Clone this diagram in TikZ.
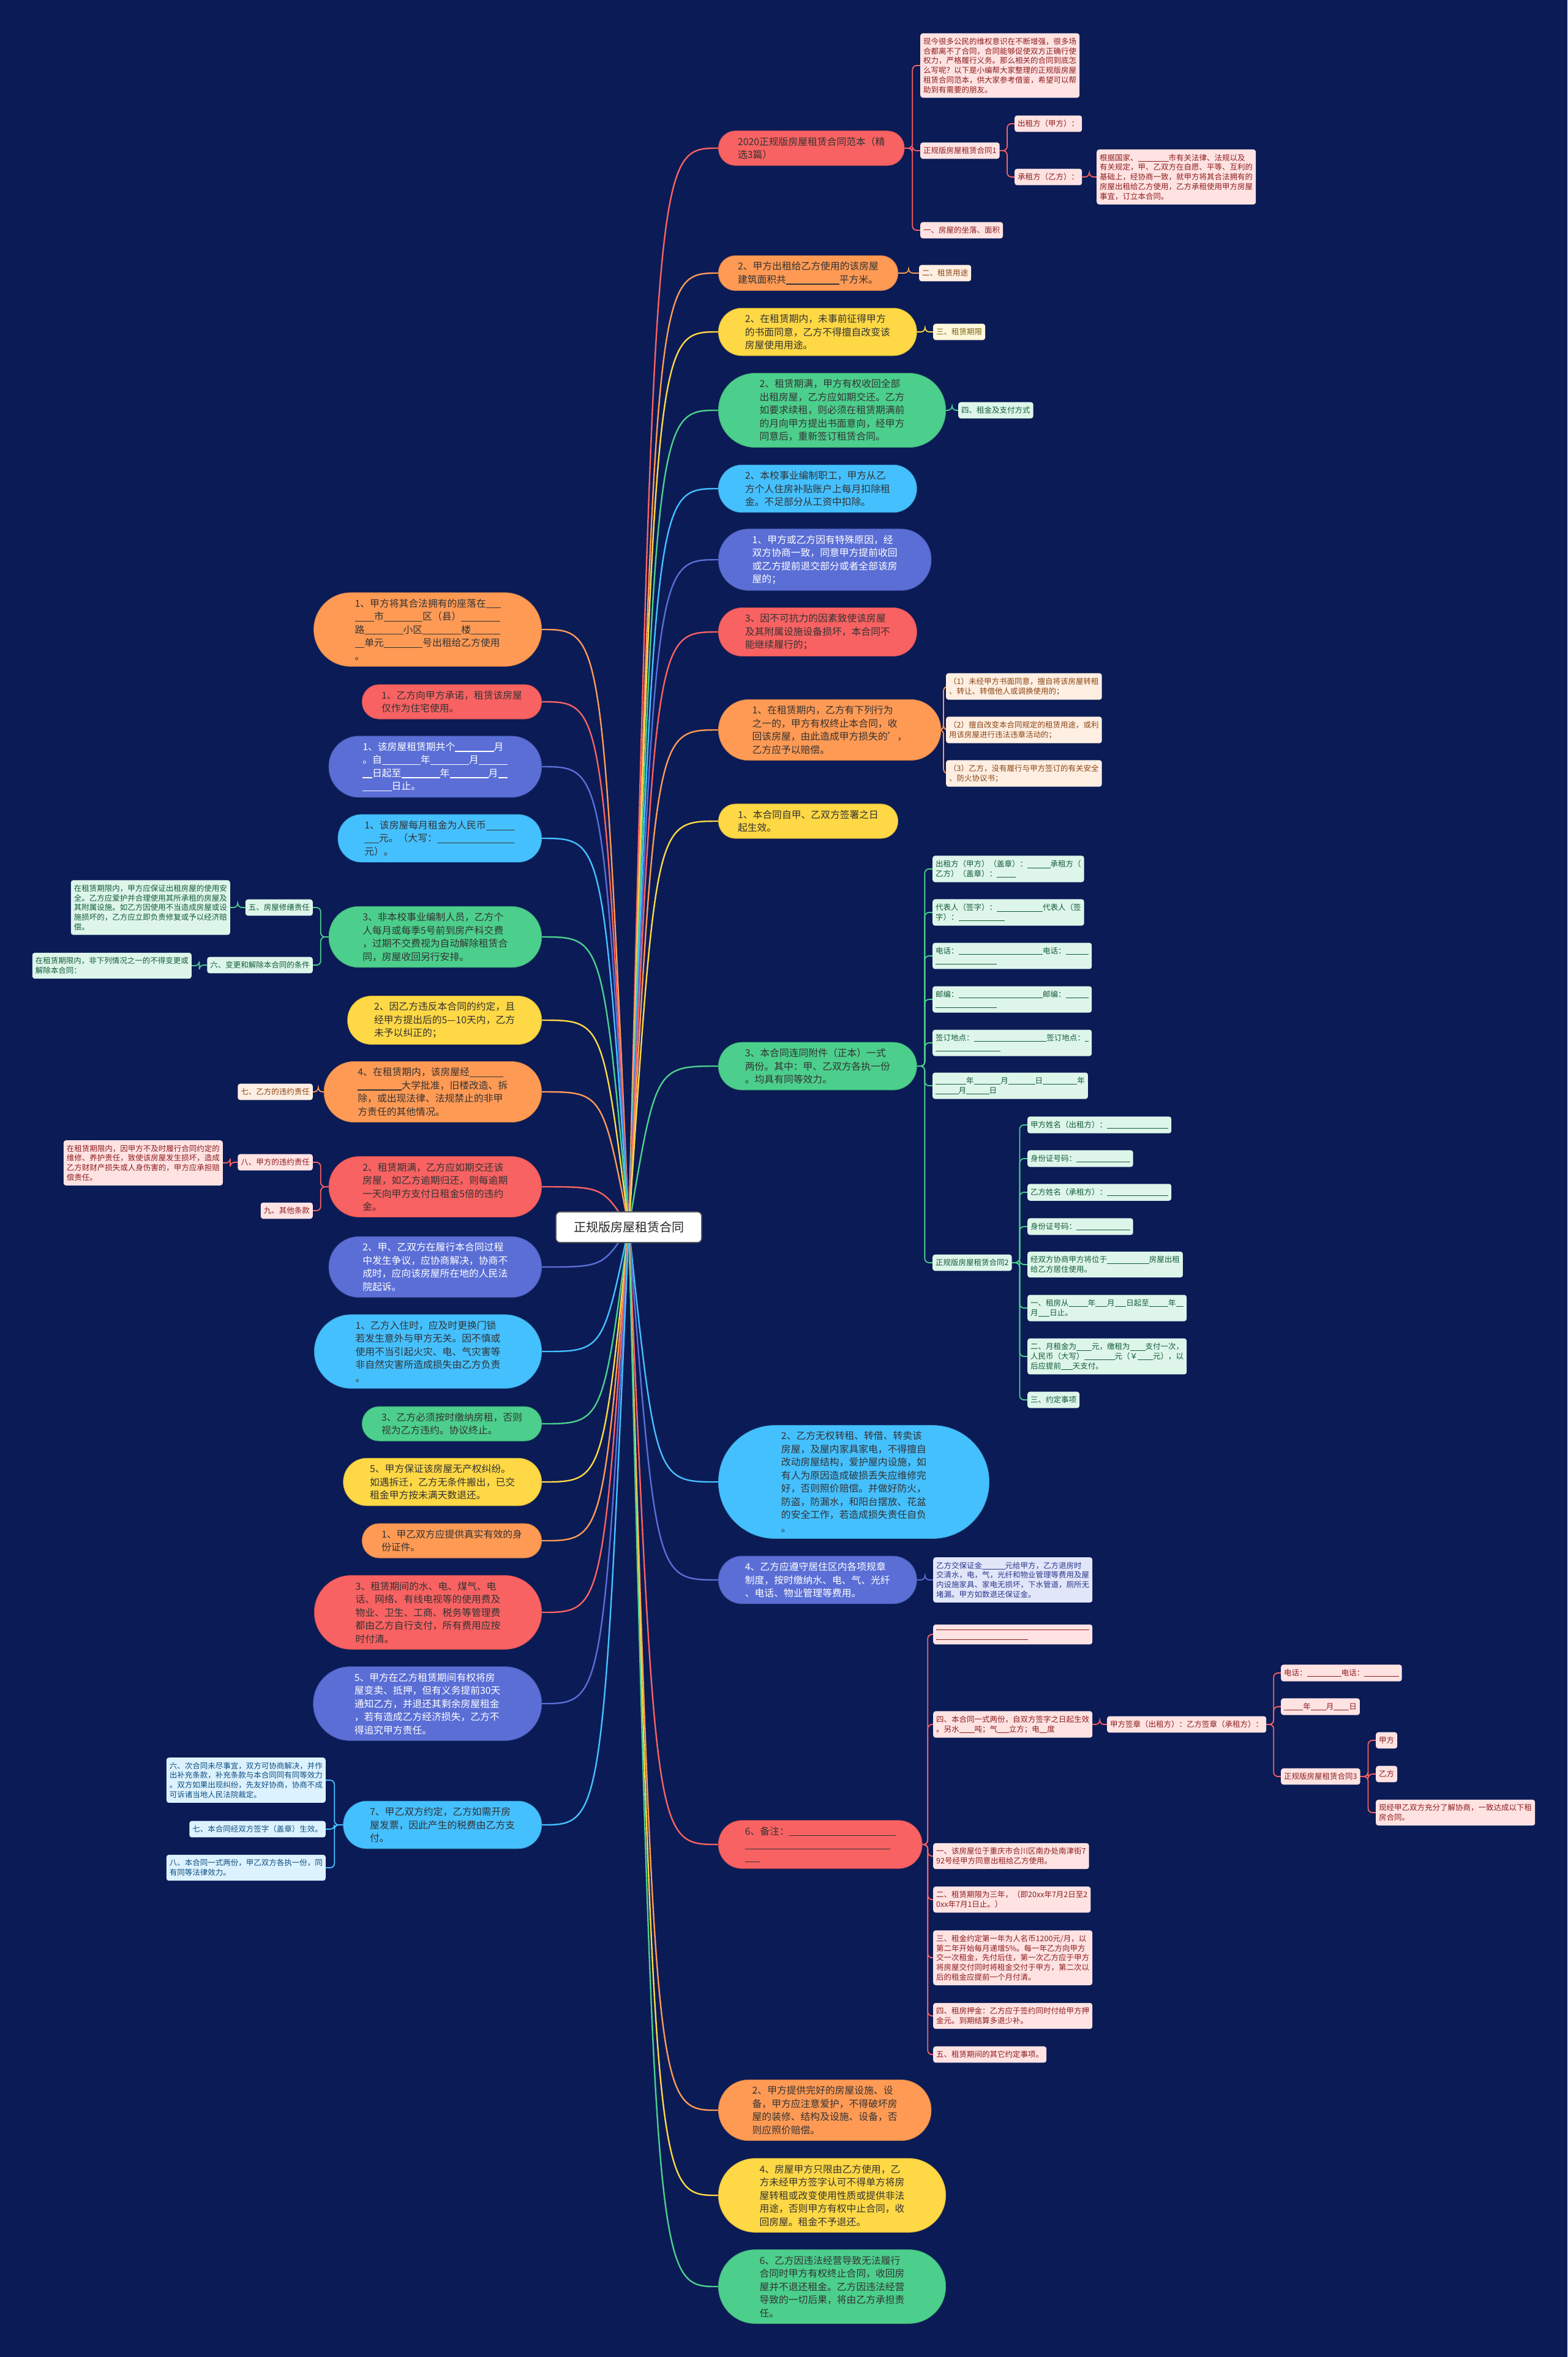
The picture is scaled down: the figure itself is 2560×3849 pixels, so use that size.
\documentclass[tikz,border=0pt]{standalone}
\usepackage{fontspec}
\setmainfont{Noto Sans CJK SC}
\usetikzlibrary{calc, positioning}
\definecolor{bgNavy}{HTML}{0A1B56}
\definecolor{cRed}{HTML}{F96262}
\definecolor{cOrange}{HTML}{FF9A55}
\definecolor{cYellow}{HTML}{FFD845}
\definecolor{cGreen}{HTML}{4CCF8C}
\definecolor{cSky}{HTML}{45C0FF}
\definecolor{cIndigo}{HTML}{5A6ED6}
\definecolor{pRed}{HTML}{FFE3E3}
\definecolor{pOrange}{HTML}{FFEFE2}
\definecolor{pYellow}{HTML}{FFF7DB}
\definecolor{pGreen}{HTML}{DEF6EA}
\definecolor{pSky}{HTML}{DDF2FF}
\definecolor{pIndigo}{HTML}{E2E6F9}
\definecolor{dRed}{HTML}{8E1D1D}
\definecolor{dOrange}{HTML}{8A4514}
\definecolor{dYellow}{HTML}{7A6312}
\definecolor{dGreen}{HTML}{135B3B}
\definecolor{dSky}{HTML}{0F4F80}
\definecolor{dIndigo}{HTML}{2B398C}
\pgfdeclarelayer{bg}
\pgfdeclarelayer{edges}
\pgfsetlayers{bg,edges,main}
\newcommand{\bl}[1]{\rule[-0.14em]{\dimexpr #1em/2\relax}{0.07em}}

\begin{document}
\begin{tikzpicture}[
    x=1pt, y=-1pt,
    root/.style={
        rectangle, rounded corners=7pt,
        fill=white, draw=black!65, line width=1.6pt,
        font=\fontsize{20}{24}\selectfont, text=black!85,
        minimum width=238pt, minimum height=50pt
    },
    topic/.style={
        rectangle, align=left, inner ysep=10pt,
        font=\fontsize{15.8}{21.5}\selectfont, text=black!80,
        fill=#1, draw=#1!80!black, line width=0.8pt
    },
    rows/.style={
        inner xsep={0.55*(21.5*#1+14.5)},
        rounded corners={0.5*(21.5*#1+14.5)-1}
    },
    leaf/.style={
        rectangle, rounded corners=4pt, align=left,
        inner xsep=5pt, inner ysep=7.5pt,
        font=\fontsize{12.5}{15.7}\selectfont,
        fill=p#1, text=d#1
    },
    mainline/.style={
        line width=2.4pt,
        to path={let \p1=(\tikztostart), \p2=(\tikztotarget) in
            .. controls ({\x1+0.3*(\x2-\x1)},\y2) .. (\tikztotarget)}
    },
    subline/.style={
        line width=1.8pt, rounded corners=7pt,
        to path={-- ($(\tikztostart)!0.5!(\tikztostart-|\tikztotarget)$) |- (\tikztotarget)}
    }
]
\useasboundingbox (0,0) rectangle (2560,3849);
\begin{pgfonlayer}{bg}
\fill[bgNavy] (0,0) rectangle (2560,3849);
\end{pgfonlayer}

% root
\node[root] (root) at (1027,2004) {正规版房屋租赁合同};

% right topics
\node[topic=cRed, rows=2, anchor=west] (R1) at (1173,242) {2020正规版房屋租赁合同范本（精\\选3篇）};
\node[topic=cOrange, rows=2, anchor=west] (R2) at (1173,446) {2、甲方出租给乙方使用的该房屋\\建筑面积共\bl{11}平方米。};
\node[topic=cYellow, rows=3, anchor=west] (R3) at (1173,542) {2、在租赁期内，未事前征得甲方\\的书面同意，乙方不得擅自改变该\\房屋使用用途。};
\node[topic=cGreen, rows=5, anchor=west] (R4) at (1173,670) {2、租赁期满，甲方有权收回全部\\出租房屋，乙方应如期交还。乙方\\如要求续租，则必须在租赁期满前\\的月向甲方提出书面意向，经甲方\\同意后，重新签订租赁合同。};
\node[topic=cSky, rows=3, anchor=west] (R5) at (1173,798) {2、本校事业编制职工，甲方从乙\\方个人住房补贴账户上每月扣除租\\金。不足部分从工资中扣除。};
\node[topic=cIndigo, rows=4, text=white, anchor=west] (R6) at (1173,914) {1、甲方或乙方因有特殊原因，经\\双方协商一致，同意甲方提前收回\\或乙方提前退交部分或者全部该房\\屋的；};
\node[topic=cRed, rows=3, anchor=west] (R7) at (1173,1032) {3、因不可抗力的因素致使该房屋\\及其附属设施设备损坏，本合同不\\能继续履行的；};
\node[topic=cOrange, rows=4, anchor=west] (R8) at (1173,1192) {1、在租赁期内，乙方有下列行为\\之一的，甲方有权终止本合同，收\\回该房屋，由此造成甲方损失的'，\\乙方应予以赔偿。};
\node[topic=cYellow, rows=2, anchor=west] (R9) at (1173,1341) {1、本合同自甲、乙双方签署之日\\起生效。};
\node[topic=cGreen, rows=3, anchor=west] (R10) at (1173,1741) {3、本合同连同附件（正本）一式\\两份。其中：甲、乙双方各执一份\\。均具有同等效力。};
\node[topic=cSky, rows=8, anchor=west] (R11) at (1173,2420) {2、乙方无权转租、转借、转卖该\\房屋，及屋内家具家电，不得擅自\\改动房屋结构，爱护屋内设施，如\\有人为原因造成破损丢失应维修完\\好，否则照价赔偿。并做好防火，\\防盗，防漏水，和阳台摆放、花盆\\的安全工作，若造成损失责任自负\\。};
\node[topic=cIndigo, rows=3, text=white, anchor=west] (R12) at (1173,2580) {4、乙方应遵守居住区内各项规章\\制度，按时缴纳水、电、气、光纤\\、电话、物业管理等费用。};
\node[topic=cRed, rows=3, anchor=west] (R13) at (1173,3012) {6、备注：\bl{22}\\\bl{30}\\\bl{3}};
\node[topic=cOrange, rows=4, anchor=west] (R14) at (1173,3446) {2、甲方提供完好的房屋设施、设\\备，甲方应注意爱护，不得破坏房\\屋的装修、结构及设施、设备，否\\则应照价赔偿。};
\node[topic=cYellow, rows=5, anchor=west] (R15) at (1173,3585) {4、房屋甲方只限由乙方使用，乙\\方未经甲方签字认可不得单方将房\\屋转租或改变使用性质或提供非法\\用途，否则甲方有权中止合同，收\\回房屋。租金不予退还。};
\node[topic=cGreen, rows=5, anchor=west] (R16) at (1173,3734) {6、乙方因违法经营导致无法履行\\合同时甲方有权终止合同，收回房\\屋并不退还租金。乙方因违法经营\\导致的一切后果，将由乙方承担责\\任。};

% left topics
\node[topic=cOrange, rows=5, anchor=east] (L1) at (885,1028) {1、甲方将其合法拥有的座落在\bl{3}\\\bl{4}市\bl{8}区（县）\bl{8}\\路\bl{8}小区\bl{8}楼\bl{6}\\\bl{2}单元\bl{8}号出租给乙方使用\\。};
\node[topic=cRed, rows=2, anchor=east] (L2) at (885,1146) {1、乙方向甲方承诺，租赁该房屋\\仅作为住宅使用。};
\node[topic=cIndigo, rows=4, text=white, anchor=east] (L3) at (885,1252) {1、该房屋租赁期共个\bl{8}月\\。自\bl{8}年\bl{8}月\bl{6}\\\bl{2}日起至\bl{8}年\bl{8}月\bl{2}\\\bl{6}日止。};
\node[topic=cSky, rows=3, anchor=east] (L4) at (885,1369) {1、该房屋每月租金为人民币\bl{6}\\\bl{3}元。（大写：\bl{16}\\元）。};
\node[topic=cGreen, rows=4, anchor=east] (L5) at (885,1530) {3、非本校事业编制人员，乙方个\\人每月或每季5号前到房产科交费\\，过期不交费视为自动解除租赁合\\同，房屋收回另行安排。};
\node[topic=cYellow, rows=3, anchor=east] (L6) at (885,1666) {2、因乙方违反本合同的约定，且\\经甲方提出后的5—10天内，乙方\\未予以纠正的；};
\node[topic=cOrange, rows=4, anchor=east] (L7) at (885,1783) {4、在租赁期内，该房屋经\bl{7}\\\bl{9}大学批准，旧楼改造、拆\\除，或出现法律、法规禁止的非甲\\方责任的其他情况。};
\node[topic=cRed, rows=4, anchor=east] (L8) at (885,1938) {2、租赁期满，乙方应如期交还该\\房屋，如乙方逾期归还，则每逾期\\一天向甲方支付日租金5倍的违约\\金。};
\node[topic=cIndigo, rows=4, text=white, anchor=east] (L9) at (885,2069) {2、甲、乙双方在履行本合同过程\\中发生争议，应协商解决，协商不\\成时，应向该房屋所在地的人民法\\院起诉。};
\node[topic=cSky, rows=5, anchor=east] (L10) at (885,2207) {1、乙方入住时，应及时更换门锁\\若发生意外与甲方无关。因不慎或\\使用不当引起火灾、电、气灾害等\\非自然灾害所造成损失由乙方负责\\。};
\node[topic=cGreen, rows=2, anchor=east] (L11) at (885,2325) {3、乙方必须按时缴纳房租，否则\\视为乙方违约。协议终止。};
\node[topic=cYellow, rows=3, anchor=east] (L12) at (885,2420) {5、甲方保证该房屋无产权纠纷。\\如遇拆迁，乙方无条件搬出，已交\\租金甲方按未满天数退还。};
\node[topic=cOrange, rows=2, anchor=east] (L13) at (885,2516) {1、甲乙双方应提供真实有效的身\\份证件。};
\node[topic=cRed, rows=5, anchor=east] (L14) at (885,2633) {3、租赁期间的水、电、煤气、电\\话、网络、有线电视等的使用费及\\物业、卫生、工商、税务等管理费\\都由乙方自行支付，所有费用应按\\时付清。};
\node[topic=cIndigo, rows=5, text=white, anchor=east] (L15) at (885,2782) {5、甲方在乙方租赁期间有权将房\\屋变卖、抵押，但有义务提前30天\\通知乙方，并退还其剩余房屋租金\\，若有造成乙方经济损失，乙方不\\得追究甲方责任。};
\node[topic=cSky, rows=3, anchor=east] (L16) at (885,2980) {7、甲乙双方约定，乙方如需开房\\屋发票，因此产生的税费由乙方支\\付。};

% right leaves
\node[leaf=Red, anchor=west] (R1a) at (1503,107) {现今很多公民的维权意识在不断增强，很多场\\合都离不了合同，合同能够促使双方正确行使\\权力，严格履行义务。那么相关的合同到底怎\\么写呢？以下是小编帮大家整理的正规版房屋\\租赁合同范本，供大家参考借鉴，希望可以帮\\助到有需要的朋友。};
\node[leaf=Red, anchor=west] (R1b) at (1503,246) {正规版房屋租赁合同1};
\node[leaf=Red, anchor=west] (R1c) at (1503,376) {一、房屋的坐落、面积};
\node[leaf=Red, anchor=west] (R1b1) at (1657,202) {出租方（甲方）：};
\node[leaf=Red, anchor=west] (R1b2) at (1657,289) {承租方（乙方）：};
\node[leaf=Red, anchor=west] (R1b2a) at (1791,289) {根据国家、\bl{8}市有关法律、法规以及\\有关规定，甲、乙双方在自愿、平等、互利的\\基础上，经协商一致，就甲方将其合法拥有的\\房屋出租给乙方使用，乙方承租使用甲方房屋\\事宜，订立本合同。};
\node[leaf=Orange, anchor=west] (R2a) at (1501,446) {二、租赁用途};
\node[leaf=Yellow, anchor=west] (R3a) at (1524,542) {三、租赁期限};
\node[leaf=Green, anchor=west] (R4a) at (1565,670) {四、租金及支付方式};
\node[leaf=Orange, anchor=west] (R8a) at (1545,1121) {（1）未经甲方书面同意，擅自将该房屋转租\\、转让、转借他人或调换使用的；};
\node[leaf=Orange, anchor=west] (R8b) at (1545,1192) {（2）擅自改变本合同规定的租赁用途，或利\\用该房屋进行违法违章活动的；};
\node[leaf=Orange, anchor=west] (R8c) at (1545,1263) {（3）乙方，没有履行与甲方签订的有关安全\\、防火协议书；};

\node[leaf=Green, anchor=west] (R10a) at (1523,1419) {出租方（甲方）（盖章）：\bl{6}承租方（\\乙方）（盖章）：\bl{5}};
\node[leaf=Green, anchor=west] (R10b) at (1523,1490) {代表人（签字）：\bl{12}代表人（签\\字）：\bl{12}};
\node[leaf=Green, anchor=west] (R10c) at (1523,1561) {电话：\bl{22}电话：\bl{6}\\\bl{16}};
\node[leaf=Green, anchor=west] (R10d) at (1523,1632) {邮编：\bl{22}邮编：\bl{6}\\\bl{16}};
\node[leaf=Green, anchor=west] (R10e) at (1523,1703) {签订地点：\bl{19}签订地点：\bl{1}\\\bl{17}};
\node[leaf=Green, anchor=west] (R10f) at (1523,1773) {\bl{8}年\bl{7}月\bl{7}日\bl{9}年\\\bl{6}月\bl{6}日};
\node[leaf=Green, anchor=west] (R10g) at (1523,2062) {正规版房屋租赁合同2};
\node[leaf=Green, anchor=west] (R10g1) at (1678,1837) {甲方姓名（出租方）：\bl{16}};
\node[leaf=Green, anchor=west] (R10g2) at (1678,1892) {身份证号码：\bl{14}};
\node[leaf=Green, anchor=west] (R10g3) at (1678,1947) {乙方姓名（承租方）：\bl{16}};
\node[leaf=Green, anchor=west] (R10g4) at (1678,2003) {身份证号码：\bl{14}};
\node[leaf=Green, anchor=west] (R10g5) at (1678,2065) {经双方协商甲方将位于\bl{11}房屋出租\\给乙方居住使用。};
\node[leaf=Green, anchor=west] (R10g6) at (1678,2136) {一、租房从\bl{5}年\bl{3}月\bl{3}日起至\bl{5}年\bl{2}\\月\bl{3}日止。};
\node[leaf=Green, anchor=west] (R10g7) at (1678,2215) {二、月租金为\bl{4}元，缴租为\bl{4}支付一次，\\人民币（大写）\bl{8}元（￥\bl{4}元），以\\后应提前\bl{3}天支付。};
\node[leaf=Green, anchor=west] (R10g8) at (1678,2286) {三、约定事项};

\node[leaf=Indigo, anchor=west] (R12a) at (1524,2580) {乙方交保证金\bl{6}元给甲方，乙方退房时\\交清水，电，气，光纤和物业管理等费用及屋\\内设施家具、家电无损坏，下水管道，厕所无\\堵漏。甲方如数退还保证金。};

\node[leaf=Red, anchor=west] (R13a) at (1524,2669) {\bl{40}\\\bl{24}};
\node[leaf=Red, anchor=west] (R13b) at (1524,2816) {四、本合同一式两份，自双方签字之日起生效\\。另水\bl{4}吨；气\bl{3}立方；电\bl{2}度};
\node[leaf=Red, anchor=west] (R13c) at (1524,3031) {一、该房屋位于重庆市合川区南办处南津街7\\92号经甲方同意出租给乙方使用。};
\node[leaf=Red, anchor=west] (R13d) at (1524,3102) {二、租赁期限为三年，（即20xx年7月2日至2\\0xx年7月1日止。）};
\node[leaf=Red, anchor=west] (R13e) at (1524,3197) {三、租金约定第一年为人名币1200元/月，以\\第二年开始每月递增5\%。每一年乙方向甲方\\交一次租金，先付后住，第一次乙方应于甲方\\将房屋交付同时将租金交付于甲方，第二次以\\后的租金应提前一个月付清。};
\node[leaf=Red, anchor=west] (R13f) at (1524,3292) {四、租房押金：乙方应于签约同时付给甲方押\\金元。到期结算多退少补。};
\node[leaf=Red, anchor=west] (R13g) at (1524,3355) {五、租赁期间的其它约定事项。};
\node[leaf=Red, anchor=west] (R13s) at (1808,2816) {甲方签章（出租方）：乙方签章（承租方）：};
\node[leaf=Red, anchor=west] (R13s1) at (2092,2732) {电话：\bl{9}电话：\bl{9}};
\node[leaf=Red, anchor=west] (R13s2) at (2092,2787) {\bl{5}年\bl{4}月\bl{4}日};
\node[leaf=Red, anchor=west] (R13s3) at (2092,2901) {正规版房屋租赁合同3};
\node[leaf=Red, anchor=west] (R13s3a) at (2247,2842) {甲方};
\node[leaf=Red, anchor=west] (R13s3b) at (2247,2897) {乙方};
\node[leaf=Red, anchor=west] (R13s3c) at (2247,2960) {现经甲乙双方充分了解协商，一致达成以下租\\房合同。};

% left leaves
\node[leaf=Green, anchor=east] (L5a) at (511,1482) {五、房屋修缮责任};
\node[leaf=Green, anchor=east] (L5a1) at (376,1482) {在租赁期限内，甲方应保证出租房屋的使用安\\全。乙方应爱护并合理使用其所承租的房屋及\\其附属设施。如乙方因使用不当造成房屋或设\\施损坏的，乙方应立即负责修复或予以经济赔\\偿。};
\node[leaf=Green, anchor=east] (L5b) at (511,1576) {六、变更和解除本合同的条件};
\node[leaf=Green, anchor=east] (L5b1) at (313,1577) {在租赁期限内，非下列情况之一的不得变更或\\解除本合同：};
\node[leaf=Orange, anchor=east] (L7a) at (511,1783) {七、乙方的违约责任};
\node[leaf=Red, anchor=east] (L8a) at (511,1898) {八、甲方的违约责任};
\node[leaf=Red, anchor=east] (L8a1) at (364,1899) {在租赁期限内，因甲方不及时履行合同约定的\\维修、养护责任，致使该房屋发生损坏，造成\\乙方财财产损失或人身伤害的，甲方应承担赔\\偿责任。};
\node[leaf=Red, anchor=east] (L8b) at (511,1977) {九、其他条款};
\node[leaf=Sky, anchor=east] (L16a) at (532,2907) {六、次合同未尽事宜，双方可协商解决，并作\\出补充条款，补充条款与本合同同有同等效力\\。双方如果出现纠纷，先友好协商，协商不成\\可诉诸当地人民法院裁定。};
\node[leaf=Sky, anchor=east] (L16b) at (532,2987) {七、本合同经双方签字（盖章）生效。};
\node[leaf=Sky, anchor=east] (L16c) at (532,3050) {八、本合同一式两份，甲乙双方各执一份，同\\有同等法律效力。};

% connectors
\begin{pgfonlayer}{edges}
\foreach \nd/\cl in {R1/cRed, R2/cOrange, R3/cYellow, R4/cGreen, R5/cSky, R6/cIndigo,
    R7/cRed, R8/cOrange, R9/cYellow, R10/cGreen, R11/cSky, R12/cIndigo,
    R13/cRed, R14/cOrange, R15/cYellow, R16/cGreen}
  \draw[mainline, draw=\cl] (root.center) to (\nd.west);
\foreach \nd/\cl in {L1/cOrange, L2/cRed, L3/cIndigo, L4/cSky, L5/cGreen, L6/cYellow,
    L7/cOrange, L8/cRed, L9/cIndigo, L10/cSky, L11/cGreen, L12/cYellow,
    L13/cOrange, L14/cRed, L15/cIndigo, L16/cSky}
  \draw[mainline, draw=\cl] (root.center) to (\nd.east);
\foreach \pa/\ch/\cl in {R1/R1a/cRed, R1/R1b/cRed, R1/R1c/cRed, R1b/R1b1/cRed, R1b/R1b2/cRed,
    R1b2/R1b2a/cRed, R2/R2a/cOrange, R3/R3a/cYellow, R4/R4a/cGreen,
    R8/R8a/cOrange, R8/R8b/cOrange, R8/R8c/cOrange,
    R10/R10a/cGreen, R10/R10b/cGreen, R10/R10c/cGreen, R10/R10d/cGreen,
    R10/R10e/cGreen, R10/R10f/cGreen, R10/R10g/cGreen,
    R10g/R10g1/cGreen, R10g/R10g2/cGreen, R10g/R10g3/cGreen, R10g/R10g4/cGreen,
    R10g/R10g5/cGreen, R10g/R10g6/cGreen, R10g/R10g7/cGreen, R10g/R10g8/cGreen,
    R12/R12a/cIndigo,
    R13/R13a/cRed, R13/R13b/cRed, R13/R13c/cRed, R13/R13d/cRed, R13/R13e/cRed,
    R13/R13f/cRed, R13/R13g/cRed, R13b/R13s/cRed,
    R13s/R13s1/cRed, R13s/R13s2/cRed, R13s/R13s3/cRed,
    R13s3/R13s3a/cRed, R13s3/R13s3b/cRed, R13s3/R13s3c/cRed}
  \draw[subline, draw=\cl] (\pa.east) to (\ch.west);
\foreach \pa/\ch/\cl in {L5/L5a/cGreen, L5/L5b/cGreen, L5a/L5a1/cGreen, L5b/L5b1/cGreen,
    L7/L7a/cOrange, L8/L8a/cRed, L8/L8b/cRed, L8a/L8a1/cRed,
    L16/L16a/cSky, L16/L16b/cSky, L16/L16c/cSky}
  \draw[subline, draw=\cl] (\pa.west) to (\ch.east);
\end{pgfonlayer}
\end{tikzpicture}
\end{document}
